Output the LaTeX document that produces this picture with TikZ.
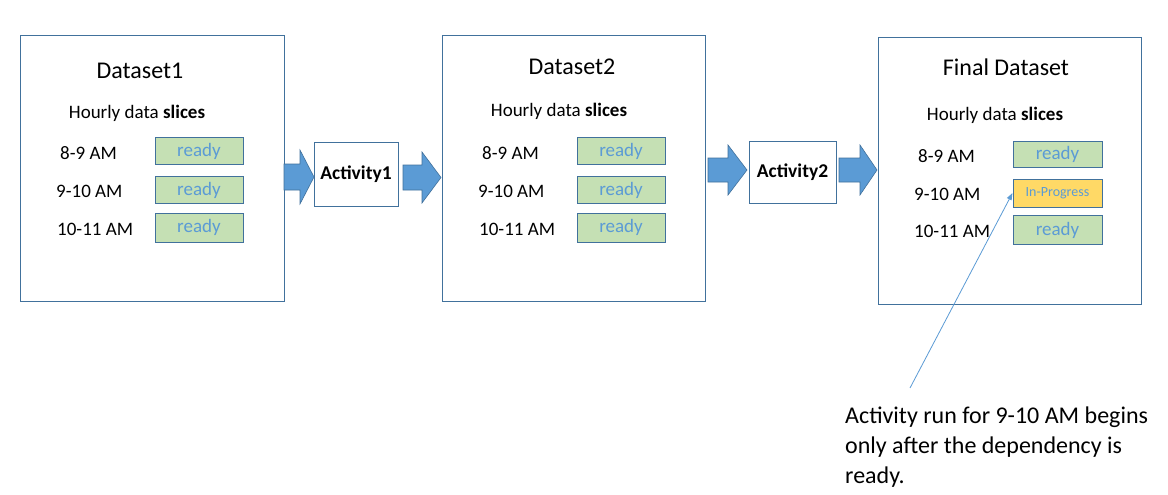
\documentclass[tikz,border=0pt]{standalone}
\usepackage{fontspec}
\setmainfont{Carlito}
\usetikzlibrary{arrows.meta}
\definecolor{bordc}{HTML}{41719C}
\definecolor{readyfill}{HTML}{C5E0B4}
\definecolor{readytxt}{HTML}{5B9BD5}
\definecolor{arrfill}{HTML}{5B9BD5}
\definecolor{ipfill}{HTML}{FFD966}
\newcommand\myblockarrow[6]{%
  \fill[arrfill,draw=bordc,line width=0.6pt]
    (#1,#4-#5) -- (#2,#4-#5) -- (#2,#4-#6) -- (#3,#4) -- (#2,#4+#6) -- (#2,#4+#5) -- (#1,#4+#5) -- cycle;}
\tikzset{
  dsbox/.style={draw=bordc,line width=1pt,fill=white},
  actbox/.style={draw=bordc,line width=1pt,fill=white,inner sep=0pt,font=\fontsize{19.5}{22}\selectfont\bfseries},
  titletxt/.style={anchor=base,inner sep=0pt,font=\fontsize{24}{28}\selectfont},
  subtxt/.style={anchor=base,inner sep=0pt,font=\fontsize{19}{22}\selectfont},
  rowtxt/.style={anchor=base west,inner sep=0pt,font=\fontsize{19}{22}\selectfont},
  readybox/.style={draw=bordc,line width=1pt,fill=readyfill,inner sep=0pt,text=readytxt,font=\fontsize{19}{22}\selectfont},
  ipbox/.style={draw=bordc,line width=1pt,fill=ipfill,inner sep=0pt,text=readytxt,font=\fontsize{14}{16}\selectfont},
  notetxt/.style={anchor=north west,inner sep=0pt,align=left,font=\fontsize{24}{30}\selectfont},
  pointer/.style={draw=arrfill,line width=0.8pt,-{Triangle[length=7pt,width=5pt]}}
}
\begin{document}
\begin{tikzpicture}[x=1pt,y=-1pt]
\useasboundingbox[fill=white] (0,0) rectangle (1168,495);

% Dataset1
\draw[dsbox] (20,36) rectangle (284,301);
\node[titletxt] (t1) at (140,78) {Dataset1};
\node[subtxt] (h1) at (137,118) {Hourly data \textbf{slices}};
\node[rowtxt] (r11) at (60,159) {8-9 AM};
\node[rowtxt] (r12) at (56,197) {9-10 AM};
\node[rowtxt] (r13) at (57,235) {10-11 AM};
\node[readybox,minimum width=88pt,minimum height=27pt] (b11) at (199,151) {ready};
\node[readybox,minimum width=88pt,minimum height=27pt] (b12) at (199,190) {ready};
\node[readybox,minimum width=88pt,minimum height=29pt] (b13) at (199,227.5) {ready};

% Dataset2
\draw[dsbox] (442,36) rectangle (705,301);
\node[titletxt] (t2) at (572,75) {Dataset2};
\node[subtxt] (h2) at (559,117) {Hourly data \textbf{slices}};
\node[rowtxt] (r21) at (482,159) {8-9 AM};
\node[rowtxt] (r22) at (478,197) {9-10 AM};
\node[rowtxt] (r23) at (479,235) {10-11 AM};
\node[readybox,minimum width=88pt,minimum height=27pt] (b21) at (621,151) {ready};
\node[readybox,minimum width=88pt,minimum height=27pt] (b22) at (621,190) {ready};
\node[readybox,minimum width=88pt,minimum height=29pt] (b23) at (621,227.5) {ready};

% Final dataset
\draw[dsbox] (878,38) rectangle (1141,304);
\node[titletxt] (t3) at (1006,76) {Final Dataset};
\node[subtxt] (h3) at (995,121) {Hourly data \textbf{slices}};
\node[rowtxt] (r31) at (918,162) {8-9 AM};
\node[rowtxt] (r32) at (914,200) {9-10 AM};
\node[rowtxt] (r33) at (914,237) {10-11 AM};
\node[readybox,minimum width=89pt,minimum height=26pt] (b31) at (1057.5,154.5) {ready};
\node[ipbox,minimum width=89pt,minimum height=28pt] (ip) at (1057.5,193) {In-Progress};
\node[readybox,minimum width=89pt,minimum height=29pt] (b33) at (1057.5,230) {ready};

% Activities
\node[actbox,minimum width=84pt,minimum height=64pt] (a1) at (356,174) {Activity1};
\node[actbox,minimum width=87pt,minimum height=62pt] (a2) at (792.5,172) {Activity2};

% Block arrows
\myblockarrow{284}{300}{314}{177}{13}{27}
\myblockarrow{403}{422}{441}{177.5}{12.5}{25.5}
\myblockarrow{708}{728}{747}{170}{12}{25}
\myblockarrow{839}{860}{877}{170}{12}{25}

% Note and pointer
\coordinate (pstart) at (910,388);
\draw[pointer] (pstart) -- (ip.west);
\node[notetxt] (note) at (845,407) {Activity run for 9-10 AM begins\\only after the dependency is\\ready.};
\end{tikzpicture}
\end{document}
